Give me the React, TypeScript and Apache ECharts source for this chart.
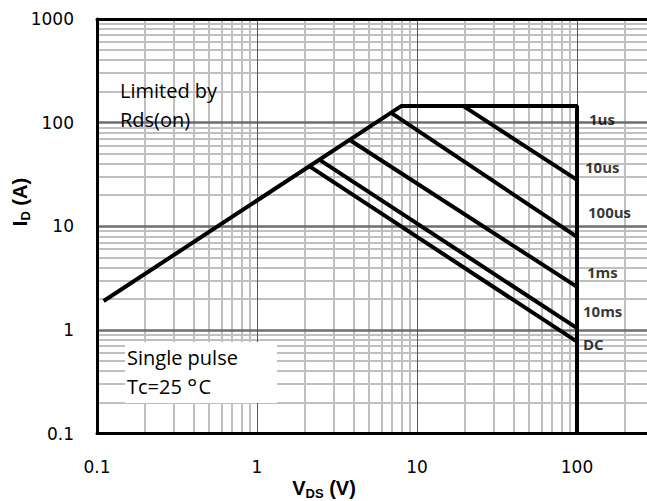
import React, { useEffect, useRef } from "react";
import * as echarts from "echarts";

// Axis ticks (log scale, decades)
const xTickValues = [0.1, 1, 10, 100, 1000];
const yTickValues = [0.1, 1, 10, 100, 1000];
const decadeStarts = [0.1, 1, 10, 100];
const minorMultipliers = [2, 3, 4, 5, 6, 7, 8, 9];
const majorX = [1, 10, 100];
const majorY = [1, 10, 100];

// SOA boundary: Rds(on) limit -> current limit -> voltage limit
const boundaryV = [0.11, 8, 100, 100];
const boundaryI = [1.9, 145, 145, 0.1];

// Pulse lines (start on boundary, end at VDS = 100 V)
const pulseStartV = [19.4, 6.9, 3.8, 2.45, 2.12];
const pulseStartI = [145, 124, 68, 44, 38];
const pulseEndV = [100, 100, 100, 100, 100];
const pulseEndI = [28, 7.9, 2.6, 1.04, 0.77];

// Pulse labels
const labelTexts = ["1us", "10us", "100us", "1ms", "10ms", "DC"];
const labelV = [118.9, 112.2, 117.2, 115.5, 109, 109];
const labelI = [108, 37.2, 13.6, 3.65, 1.52, 0.73];

const fmt = (v: number) => {
  let best = xTickValues[0];
  for (const t of xTickValues.concat(yTickValues)) {
    if (Math.abs(Math.log10(t) - Math.log10(v)) < Math.abs(Math.log10(best) - Math.log10(v))) best = t;
  }
  return String(best);
};

export default function App() {
  const ref = useRef<HTMLDivElement>(null);
  useEffect(() => {
    const chart = echarts.init(ref.current!, null, { renderer: "svg" });
    const minorVals = decadeStarts.flatMap((d) => minorMultipliers.map((m) => d * m));
    const pair = (xs: number[], ys: number[]) => xs.map((x, i) => [x, ys[i]]);
    const curveStyle = { color: "#000", width: 4 };
    const gridLine = (data: any[], color: string, width: number) => ({
      type: "line",
      data: [],
      z: 1,
      silent: true,
      markLine: {
        z: 1,
        silent: true,
        symbol: ["none", "none"],
        label: { show: false },
        emphasis: { disabled: true },
        lineStyle: { color, width, type: "solid", opacity: 1 },
        data,
      },
    });
    const tickLabel = {
      color: "#000",
      fontFamily: "DejaVu Sans",
      fontSize: 17,
      formatter: (v: number) => fmt(v),
    };
    const axisLine = { show: true, onZero: false, lineStyle: { color: "#000", width: 3 } };
    const option: any = {
      animation: false,
      grid: { left: 97, right: 23, top: 19, bottom: 67.5 },
      xAxis: [
        {
          type: "log",
          logBase: 10,
          min: 0.1,
          max: 1000,
          position: "bottom",
          z: 5,
          axisLine,
          axisTick: { show: false },
          splitLine: { show: false },
          axisLabel: { ...tickLabel, margin: 25, showMaxLabel: false },
        },
        {
          type: "log",
          logBase: 10,
          min: 0.1,
          max: 1000,
          position: "top",
          z: 5,
          axisLine,
          axisTick: { show: false },
          splitLine: { show: false },
          axisLabel: { show: false },
        },
      ],
      yAxis: {
        type: "log",
        logBase: 10,
        min: 0.1,
        max: 1000,
        z: 5,
        axisLine,
        axisTick: { show: false },
        splitLine: { show: false },
        axisLabel: { ...tickLabel, margin: 23 },
      },
      series: [
        gridLine([...minorVals.map((v) => ({ xAxis: v })), ...minorVals.map((v) => ({ yAxis: v }))], "#c0c0c0", 2),
        gridLine(majorY.map((v) => ({ yAxis: v })), "#6e6e6e", 2.5),
        gridLine(majorX.map((v) => ({ xAxis: v })), "#555", 1),
        {
          type: "line",
          name: "boundary",
          data: pair(boundaryV, boundaryI),
          symbol: "none",
          z: 3,
          lineStyle: curveStyle,
          silent: true,
        },
        ...pulseStartV.map((sv, i) => ({
          type: "line",
          name: "pulse" + i,
          data: [
            [sv, pulseStartI[i]],
            [pulseEndV[i], pulseEndI[i]],
          ],
          symbol: "none",
          z: 3,
          lineStyle: curveStyle,
          silent: true,
        })),
        {
          type: "scatter",
          name: "labels",
          symbolSize: 0,
          z: 4,
          silent: true,
          data: labelTexts.map((t, i) => ({ name: t, value: [labelV[i], labelI[i]] })),
          label: {
            show: true,
            position: "right",
            distance: 0,
            formatter: (p: any) => p.name,
            color: "#000",
            fontFamily: "Open Sans",
            fontWeight: "bold",
            fontSize: 15,
          },
        },
      ],
      graphic: [
        {
          type: "rect",
          z: 100,
          shape: { x: 125, y: 342, width: 152, height: 61 },
          style: { fill: "#fff" },
        },
        {
          type: "text",
          z: 101,
          x: 120,
          y: 90.5,
          style: { text: "Limited by", fontFamily: "Open Sans", fontSize: 20, fill: "#000", verticalAlign: "middle" },
        },
        {
          type: "text",
          z: 101,
          x: 120,
          y: 119.7,
          style: { text: "Rds(on)", fontFamily: "Open Sans", fontSize: 20, fill: "#000", verticalAlign: "middle" },
        },
        {
          type: "text",
          z: 101,
          x: 127,
          y: 357,
          style: { text: "Single pulse", fontFamily: "Open Sans", fontSize: 20, fill: "#000", verticalAlign: "middle" },
        },
        {
          type: "text",
          z: 101,
          x: 127,
          y: 386,
          style: {
            text: "{t|Tc=25 }{d|°}{t|C}",
            verticalAlign: "middle",
            rich: {
              t: { fontFamily: "Open Sans", fontSize: 20, fill: "#000", lineHeight: 22 },
              d: { fontFamily: "Open Sans", fontSize: 24, fill: "#000", lineHeight: 22, padding: [0, 1, 0, 0] },
            },
          },
        },
        {
          type: "text",
          z: 101,
          x: 324,
          y: 488,
          style: {
            text: "{m|V}{s|DS}{m| (V)}",
            align: "center",
            verticalAlign: "middle",
            rich: {
              m: { fontFamily: "Liberation Sans", fontWeight: "bold", fontSize: 20, fill: "#000", lineHeight: 24 },
              s: {
                fontFamily: "Liberation Sans",
                fontWeight: "bold",
                fontSize: 13,
                fill: "#000",
                lineHeight: 12,
                verticalAlign: "bottom",
              },
            },
          },
        },
        {
          type: "text",
          z: 101,
          x: 20,
          y: 202,
          rotation: Math.PI / 2,
          style: {
            text: "{m|I}{s|D}{m| (A)}",
            align: "center",
            verticalAlign: "middle",
            rich: {
              m: { fontFamily: "Liberation Sans", fontWeight: "bold", fontSize: 20, fill: "#000", lineHeight: 24 },
              s: {
                fontFamily: "Liberation Sans",
                fontWeight: "bold",
                fontSize: 13,
                fill: "#000",
                lineHeight: 12,
                verticalAlign: "bottom",
              },
            },
          },
        },
      ],
    };
    chart.setOption(option);
    return () => chart.dispose();
  }, []);
  return (
    <div style={{ position: "fixed", left: 0, top: 0, width: 647, height: 501, overflow: "hidden", background: "#fff" }}>
      <div ref={ref} style={{ width: 760, height: 501 }} />
    </div>
  );
}
